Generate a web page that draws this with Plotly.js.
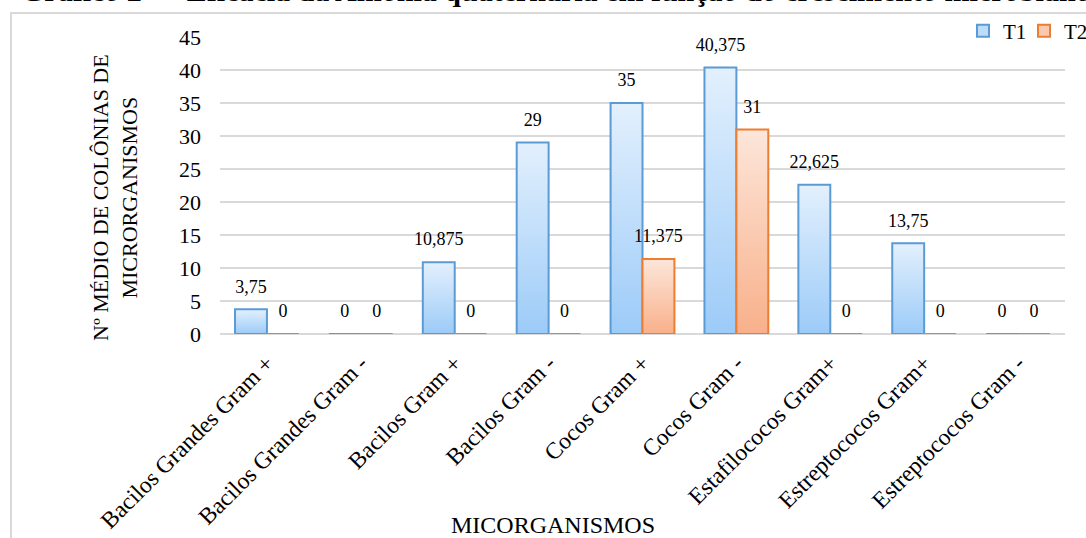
<!DOCTYPE html>
<html>
<head>
<meta charset="utf-8">
<script src="https://cdn.plot.ly/plotly-3.0.1.min.js"></script>
<style>
  html, body { margin: 0; padding: 0; background: #fff; overflow: hidden; }
  #chart { width: 1086px; height: 538px; }
  #frame { position: absolute; left: 10px; top: 12px; width: 1200px; height: 700px;
           border-left: 2px solid #d9d9d9; border-top: 2px solid #d9d9d9; pointer-events: none; }
</style>
</head>
<body>
<div id="chart"></div>
<div id="frame"></div>
<script>
const categories = [
  "Bacilos Grandes Gram +", "Bacilos Grandes Gram -", "Bacilos Gram +", "Bacilos Gram -",
  "Cocos Gram +", "Cocos Gram -", "Estafilococos Gram+", "Estreptococos Gram+", "Estreptococos Gram -"
];
const t1Values = [3.75, 0, 10.875, 29, 35, 40.375, 22.625, 13.75, 0];
const t2Values = [0, 0, 0, 0, 11.375, 31, 0, 0, 0];
const yTicks = [0, 5, 10, 15, 20, 25, 30, 35, 40, 45];

const fmt = v => String(v).replace('.', ',');
const FONT = "Liberation Serif, Times New Roman, serif";
const GAP = 0.32;

const barTrace = (name, vals, fill, line, legendRef) => ({
  type: 'bar', name: name, x: categories, y: vals, offsetgroup: name, alignmentgroup: 'a',
  textposition: 'none', legend: legendRef,
  marker: { color: fill, line: { color: line, width: 2 } }
});
const labelTrace = (name, vals) => ({
  type: 'scatter', mode: 'markers+text', name: name + ' labels', showlegend: false,
  x: categories, y: vals, offsetgroup: name, alignmentgroup: 'a',
  text: vals.map(fmt), textposition: 'top center', cliponaxis: false,
  marker: { size: 18, color: 'rgba(0,0,0,0)' },
  textfont: { family: FONT, size: 18, color: '#000' }
});

const traces = [
  barTrace('T1', t1Values, '#bddcfa', '#5b9bd5', 'legend'),
  barTrace('T2', t2Values, '#fbc8b0', '#ed7d31', 'legend2'),
  labelTrace('T1', t1Values),
  labelTrace('T2', t2Values)
];

const plotL = 220, plotR = 1065, plotT = 37, plotB = 334;
const W = 1086, H = 538;
const px = x => (x - plotL) / (plotR - plotL);
const py = y => (plotB - y) / (plotB - plotT);

const legendStyle = x => ({
  orientation: 'h', x: px(x), xanchor: 'left', y: py(31), yanchor: 'middle',
  font: { family: FONT, size: 21, color: '#000' }, itemwidth: 30,
  bgcolor: 'rgba(0,0,0,0)', borderwidth: 0
});

const layout = {
  width: W, height: H,
  margin: { l: plotL, r: W - plotR, t: plotT, b: H - plotB, pad: 0, autoexpand: false },
  paper_bgcolor: '#fff', plot_bgcolor: '#fff',
  font: { family: FONT, size: 22, color: '#000' },
  barmode: 'group', bargap: GAP, bargroupgap: 0,
  scattermode: 'group', scattergap: GAP,
  showlegend: true,
  legend: legendStyle(963),
  legend2: legendStyle(1024),
  xaxis: {
    type: 'category', tickangle: -45, showgrid: false, zeroline: false,
    showline: false, ticks: '', ticklabelstandoff: 10,
    tickfont: { family: FONT, size: 23.5, color: '#000' },
    automargin: false
  },
  yaxis: {
    range: [0, 45], tickvals: yTicks, ticktext: yTicks.map(String),
    showgrid: true, gridcolor: '#d9d9d9', gridwidth: 1.5, zeroline: true, zerolinecolor: '#d9d9d9', zerolinewidth: 1.5,
    showline: false, ticks: '', ticklabelstandoff: 18,
    tickfont: { family: FONT, size: 22, color: '#000' }, automargin: false
  },
  annotations: [
    {
      text: 'Gráfico 2 –&nbsp;&nbsp;&nbsp;Eficácia da Amônia quaternária em função do crescimento microbiano',
      xref: 'paper', yref: 'paper', x: px(19), y: py(9.5), xanchor: 'left', yanchor: 'bottom',
      showarrow: false, font: { family: FONT, size: 30, color: '#000', weight: 'bold' }
    },
    {
      text: 'Nº MÉDIO DE COLÔNIAS DE<br>MICRORGANISMOS', textangle: -90,
      xref: 'paper', yref: 'paper', x: px(115), y: py(198), xanchor: 'center', yanchor: 'middle',
      showarrow: false, font: { family: FONT, size: 22, color: '#000' }
    },
    {
      text: 'MICORGANISMOS', xref: 'paper', yref: 'paper', x: px(553), y: py(525),
      xanchor: 'center', yanchor: 'middle', showarrow: false,
      font: { family: FONT, size: 24, color: '#000' }
    }
  ]
};

Plotly.newPlot('chart', traces, layout, { staticPlot: true, displayModeBar: false }).then(gd => {
  const svg = gd.querySelector('svg.main-svg');
  const ns = 'http://www.w3.org/2000/svg';
  let defs = svg.querySelector('defs');
  if (!defs) { defs = document.createElementNS(ns, 'defs'); svg.insertBefore(defs, svg.firstChild); }
  const mk = (id, c1, c2) => {
    const g = document.createElementNS(ns, 'linearGradient');
    g.setAttribute('id', id); g.setAttribute('x1', '0'); g.setAttribute('y1', '0');
    g.setAttribute('x2', '0'); g.setAttribute('y2', '1');
    [[0, c1], [1, c2]].forEach(([o, c]) => {
      const s = document.createElementNS(ns, 'stop');
      s.setAttribute('offset', o); s.setAttribute('stop-color', c);
      g.appendChild(s);
    });
    defs.appendChild(g);
  };
  mk('gradT1', '#e3f0fd', '#9ccbf8');
  mk('gradT2', '#fde6da', '#f8b08a');
  const groups = gd.querySelectorAll('.barlayer .trace.bars');
  groups.forEach((tr, i) => {
    tr.querySelectorAll('path').forEach(p => { p.style.fill = i === 0 ? 'url(#gradT1)' : 'url(#gradT2)'; });
  });
});
</script>
</body>
</html>
